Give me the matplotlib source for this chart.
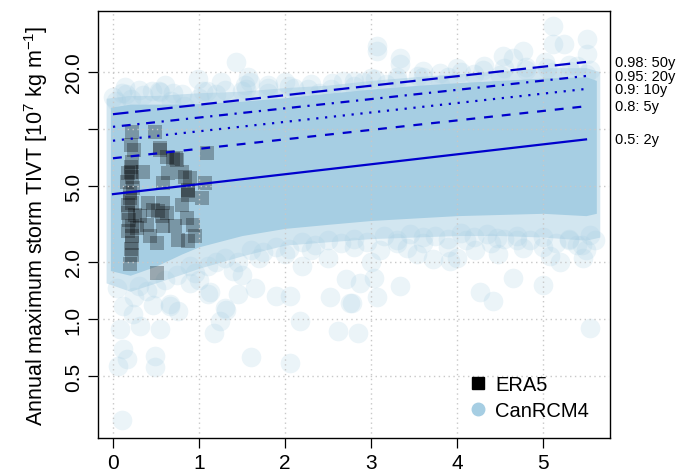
import matplotlib
matplotlib.use("Agg")
import matplotlib.pyplot as plt
from matplotlib.lines import Line2D
import numpy as np

plt.rcParams['font.family'] = ['Liberation Sans', 'DejaVu Sans']
plt.rcParams['mathtext.fontset'] = 'custom'
plt.rcParams['mathtext.rm'] = 'Liberation Sans'
plt.rcParams['mathtext.default'] = 'regular'

# ---------------- data ----------------
# CanRCM4 dense core envelope (x, lower, upper)
core_x = [-0.03, 0.2, 0.5, 0.8, 1.0, 1.5, 2.0, 2.5, 3.0, 3.5, 4.0, 4.5, 5.0, 5.5, 5.62]
core_lo = [1.8, 1.7, 1.9, 2.2, 2.4, 2.75, 3.0, 3.15, 3.3, 3.4, 3.5, 3.55, 3.6, 3.5, 3.6]
core_hi = [13.0, 13.5, 13.5, 13.5, 13.6, 14.0, 14.6, 15.4, 16.2, 16.9, 17.5, 18.0, 18.5, 18.8, 18.0]
# CanRCM4 semi-dense halo envelope
halo_x = [-0.08, 0.2, 0.5, 1.0, 1.5, 2.0, 2.5, 3.0, 3.5, 4.0, 4.5, 5.0, 5.5, 5.66]
halo_lo = [1.55, 1.4, 1.55, 1.85, 2.15, 2.45, 2.55, 2.65, 2.7, 2.75, 2.75, 2.7, 2.6, 2.7]
halo_hi = [14.5, 15.0, 15.0, 15.5, 15.8, 16.5, 17.0, 18.0, 18.8, 19.5, 20.2, 21.0, 21.0, 20.0]
# CanRCM4 scattered circles
can_x = [1.43, 0.99, 1.26, 1.57, 1.59, 1.53, 1.80, 2.0, 1.09, 0.14, 0.45, 0.60, 0.54, 0.04, 0.21,
         0.68, 0.83, 2.67, 2.54, 2.27, 2.15, 3.07, 3.07, 3.34, 3.34, 3.61, 4.0, 4.31, 4.54, 4.65,
         4.77, 5.12, 5.12, 5.24, 5.02, 5.51, 5.51, 5.31, 2.91, 3.18, 3.80,
         0.08, 0.55, 0.31, 1.17, 1.24, 2.17, 2.62, 2.85, 1.90, 2.06, 2.52, 2.76, 3.07, 3.34, 4.27,
         0.12, 0.06, 0.16, 0.49, 0.49, 1.61, 2.06, 0.10, 0.66, 0.76, 1.13, 1.32,
         4.65, 5.00, 4.42, 3.03, 2.87, 2.78, 5.55, 5.55, 5.47, 4.77, 5.08, 5.39, 4.48, 4.21, 3.92,
         3.72, 3.53, 3.42, 4.46, 0.12, 0.23, 0.47, 0.66, 0.89, 1.10, 1.30, 1.45, 1.65, 2.71,
         0.3, 0.5, 0.9, 1.2, 1.4, 1.7, 2.0, 2.3, 2.5, 2.8, 3.1, 3.3, 3.6, 3.9, 4.1, 4.4, 4.7, 5.0,
         5.3, 5.5, 1.0, 1.5, 2.2, 3.0, 4.0, 5.2,
         0.1, 0.3, 0.7, 1.0, 1.2, 1.5, 1.8, 2.1, 2.4, 2.8, 3.0, 3.3, 3.6, 3.9, 4.2, 4.5, 4.8, 5.1,
         5.4, 5.5,
         0.05, 0.25, 0.4, 0.6, 0.75, 0.95, 1.1, 1.3, 1.45, 1.6, 1.75, 1.9, 2.05, 2.2, 2.35, 2.5,
         2.65, 2.8, 2.95, 3.15, 3.3, 3.45, 3.6, 3.75, 3.9, 4.05, 4.2, 4.35, 4.55, 4.7, 4.85, 5.0,
         5.15, 5.3, 5.45, 5.6,
         0.0, 0.15, 0.35, 0.55, 0.8, 1.05, 1.3, 1.55, 1.8, 2.05, 2.3, 2.55, 2.8, 3.05, 3.3, 3.55,
         3.8, 4.05, 4.3, 4.55, 4.8, 5.05, 5.3, 5.55]
can_y = [22.4, 18.2, 17.6, 18.7, 17.6, 17.0, 17.0, 17.6, 15.9, 16.6, 15.9, 17.0, 15.9, 14.1, 14.4,
         14.1, 13.2, 17.9, 16.2, 16.2, 14.1, 27.4, 25.8, 23.7, 21.9, 20.2, 21.0, 21.5, 24.3, 23.7,
         25.8, 34.8, 27.9, 27.9, 22.4, 29.7, 24.8, 20.2, 17.6, 17.3, 17.0,
         0.885, 0.89, 0.92, 0.85, 0.98, 0.98, 0.87, 0.85, 1.32, 1.32, 1.30, 1.22, 1.30, 1.49, 1.38,
         0.695, 0.569, 0.617, 0.64, 0.56, 0.63, 0.59, 0.293, 1.20, 1.10, 1.38, 1.12,
         1.65, 1.52, 1.24, 1.65, 1.55, 1.22, 0.90, 2.78, 2.10, 2.36, 2.14, 2.45, 2.20, 2.32, 2.03,
         2.06, 2.20, 2.36, 2.67, 1.17, 1.06, 1.19, 1.17, 1.55, 1.35, 1.15, 1.35, 1.46, 1.62,
         1.5, 1.45, 1.9, 2.0, 1.8, 2.1, 2.2, 2.3, 2.1, 2.4, 2.3, 2.5, 2.5, 2.4, 2.6, 2.5, 2.6, 2.4,
         2.6, 2.3, 1.6, 1.7, 1.9, 2.0, 2.1, 2.0,
         15.5, 16.0, 15.5, 14.5, 15.2, 15.8, 15.5, 16.5, 15.5, 16.8, 18.5, 18.0, 18.7, 18.8, 19.5,
         19.2, 20.5, 20.0, 21.5, 19.5,
         1.45, 1.3, 1.4, 1.6, 1.7, 1.75, 1.9, 2.1, 2.0, 2.3, 2.25, 2.4, 2.35, 2.55, 2.45, 2.6,
         2.5, 2.65, 2.55, 2.75, 2.6, 2.8, 2.7, 2.75, 2.65, 2.85, 2.7, 2.8, 2.65, 2.75, 2.6, 2.7,
         2.5, 2.65, 2.45, 2.6,
         14.8, 15.3, 15.0, 15.6, 15.2, 15.8, 16.0, 16.3, 16.5, 16.8, 17.2, 17.5, 17.9, 18.4, 18.7,
         19.0, 19.6, 19.9, 20.3, 20.8, 21.2, 21.0, 21.8, 20.5]
# ERA5 points
era_x = [0.217, 0.488, 0.21, 0.24, 0.547, 0.22, 0.21, 0.178, 0.159, 0.624, 0.702, 0.74, 1.09,
         0.353, 0.64, 0.798, 0.837, 0.895, 0.585, 1.07, 0.876, 0.876, 1.03, 0.2, 0.217, 0.178,
         0.41, 0.585, 0.798, 0.469, 0.527, 0.624, 0.566, 0.178, 0.256, 0.314, 0.857, 0.585, 0.721,
         0.934, 0.39, 0.275, 0.178, 0.43, 0.217, 0.217, 0.508, 0.76, 0.876, 0.953, 0.217, 0.198,
         0.508, 0.21, 0.22, 0.20, 0.23, 0.19, 0.22, 0.21, 0.543, 0.736, 0.872]
era_y = [9.66, 9.66, 8.23, 7.75, 7.75, 6.73, 5.97, 5.85, 5.29, 7.15, 6.98, 6.87, 7.44,
         5.97, 5.85, 5.97, 5.62, 5.50, 5.19, 5.19, 4.78, 4.50, 4.33, 4.33, 4.07, 3.99,
         4.07, 4.07, 3.99, 3.76, 3.68, 3.61, 3.47, 3.61, 3.54, 3.47, 3.40, 3.08, 3.08,
         3.14, 3.14, 3.01, 2.90, 2.72, 2.72, 2.52, 2.52, 2.62, 2.57, 2.72, 2.18, 1.94,
         1.75, 6.3, 5.6, 4.6, 4.9, 3.3, 3.1, 2.35, 7.90, 7.01, 4.69]
# quantile regression lines: (label, value at x=0, value at x=5.5)
q_probs = [0.5, 0.8, 0.9, 0.95, 0.98]
q_labels = ["0.5: 2y", "0.8: 5y", "0.9: 10y", "0.95: 20y", "0.98: 50y"]
q_start = [4.54, 7.01, 8.67, 10.26, 11.95]
q_end = [8.81, 13.16, 16.23, 18.98, 22.5]
q_x = [0.0, 5.5]
x_ticks = [0, 1, 2, 3, 4, 5]
y_ticks = [0.5, 1.0, 2.0, 5.0, 10.0, 20.0]
y_ticklabels = ["0.5", "1.0", "2.0", "5.0", "", "20.0"]

# ---------------- plot ----------------
blue = '#A6CEE3'
fig = plt.figure(figsize=(6.88, 4.77), dpi=100)
ax = fig.add_axes([98/688, 1-439/477, 512/688, 427/477])
ax.set_yscale('log')

ax.fill_between(halo_x, halo_lo, halo_hi, color=blue, alpha=0.5, lw=0, zorder=1)
ax.fill_between(core_x, core_lo, core_hi, color=blue, alpha=1.0, lw=0, zorder=1.1)
ax.scatter(can_x, can_y, s=200, color=blue, alpha=0.22, lw=0, zorder=1.2)
ax.scatter(era_x, era_y, s=110, marker='s', color='black', alpha=0.27, lw=0, zorder=2)

styles = ['-', (0, (4, 4)), (0, (1, 3)), (0, (1, 3, 4, 3)), (0, (7, 3))]
for st, a, b, lab in zip(styles, q_start, q_end, q_labels):
    ax.plot(q_x, [a, b], color='#0000CD', lw=1.6, ls=st, zorder=3, dash_capstyle='butt')
    ax.text(5.84, b, lab, fontsize=10.5, va='center', ha='left', clip_on=False)

ax.set_xlim(-0.174, 5.779)
ax.set_ylim(0.237, 41.7)
ax.set_xticks(x_ticks)
ax.set_xticklabels([str(v) for v in x_ticks], fontsize=15)
ax.set_yticks(y_ticks)
ax.set_yticklabels(y_ticklabels, fontsize=15, rotation=90, va='center')
ax.minorticks_off()
ax.tick_params(axis='both', length=7, width=0.9, direction='out', pad=4)
ax.grid(True, color='#C8C8C8', ls=(0, (1, 2.5)), lw=1.0)
ax.set_axisbelow(False)
for sp in ax.spines.values():
    sp.set_linewidth(1.0)
ax.set_ylabel("Annual maximum storm TIVT [10$^7$ kg m$^{-1}$]", fontsize=15.5, labelpad=10)

handles = [Line2D([], [], marker='s', color='black', ls='', markersize=8),
           Line2D([], [], marker='o', color=blue, ls='', markersize=9)]
ax.legend(handles, ['ERA5', 'CanRCM4'], loc='lower right', frameon=False, fontsize=14.5,
          bbox_to_anchor=(0.995, 0.0), handletextpad=0.25, labelspacing=0.35, handlelength=1.2)

fig.savefig('out.png', dpi=100)
